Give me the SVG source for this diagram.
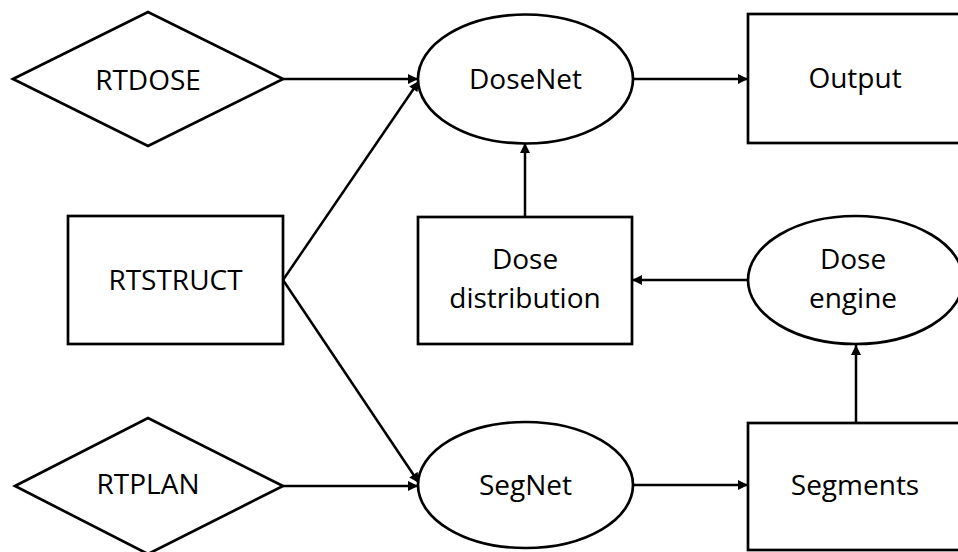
<svg xmlns="http://www.w3.org/2000/svg" width="958" height="552" viewBox="0 0 958 552">
  <style>
    .shape { fill: #ffffff; stroke: #000000; stroke-width: 2.7; }
    .edge { fill: none; stroke: #000000; stroke-width: 2.5; }
    .label { font-family: "Open Sans", "Liberation Sans", sans-serif; font-size: 28px; fill: #000000; text-anchor: middle; }
  </style>
  <defs>
    <marker id="arrow" viewBox="0 0 10 10" refX="10" refY="5" markerWidth="4.6" markerHeight="4" orient="auto" markerUnits="strokeWidth">
      <path d="M0,0 L10,5 L0,10 z" fill="#000000"/>
    </marker>
  </defs>
  <rect width="958" height="552" fill="#ffffff"/>

  <!-- connectors between the nodes -->
  <g id="connectors">
    <line class="edge" x1="283" y1="79" x2="418" y2="79" marker-end="url(#arrow)"/>
    <line class="edge" x1="283" y1="280" x2="419" y2="81" marker-end="url(#arrow)"/>
    <line class="edge" x1="283" y1="280" x2="419" y2="483" marker-end="url(#arrow)"/>
    <line class="edge" x1="283" y1="486" x2="418" y2="486" marker-end="url(#arrow)"/>
    <line class="edge" x1="633" y1="79" x2="748" y2="79" marker-end="url(#arrow)"/>
    <line class="edge" x1="525" y1="217" x2="525" y2="143" marker-end="url(#arrow)"/>
    <line class="edge" x1="748" y1="280" x2="632" y2="280" marker-end="url(#arrow)"/>
    <line class="edge" x1="633" y1="485" x2="748" y2="485" marker-end="url(#arrow)"/>
    <line class="edge" x1="856" y1="423" x2="856" y2="345" marker-end="url(#arrow)"/>
  </g>

  <g id="rtdose">
    <polygon class="shape" points="13,79 148,12 283,79 148,146"/>
    <text class="label" x="148" y="90">RTDOSE</text>
  </g>

  <g id="rtstruct">
    <rect class="shape" x="68" y="216" width="215" height="128"/>
    <text class="label" x="175.5" y="290">RTSTRUCT</text>
  </g>

  <g id="rtplan">
    <polygon class="shape" points="15,486 148,418 283,486 148,554"/>
    <text class="label" x="148" y="494">RTPLAN</text>
  </g>

  <g id="dosenet">
    <ellipse class="shape" cx="525.5" cy="79" rx="107.5" ry="64.5"/>
    <text class="label" x="525.5" y="89">DoseNet</text>
  </g>

  <g id="dose-distribution">
    <rect class="shape" x="418" y="217" width="214" height="127"/>
    <text class="label" x="525" y="269">Dose</text>
    <text class="label" x="525" y="308">distribution</text>
  </g>

  <g id="segnet">
    <ellipse class="shape" cx="525.5" cy="485" rx="107.5" ry="63"/>
    <text class="label" x="525.5" y="495">SegNet</text>
  </g>

  <g id="output">
    <rect class="shape" x="748" y="14" width="215" height="129"/>
    <text class="label" x="855" y="88">Output</text>
  </g>

  <g id="dose-engine">
    <ellipse class="shape" cx="855.5" cy="280" rx="107.5" ry="64"/>
    <text class="label" x="853" y="269">Dose</text>
    <text class="label" x="853" y="308">engine</text>
  </g>

  <g id="segments">
    <rect class="shape" x="748" y="423" width="215" height="127"/>
    <text class="label" x="855" y="495">Segments</text>
  </g>
</svg>
